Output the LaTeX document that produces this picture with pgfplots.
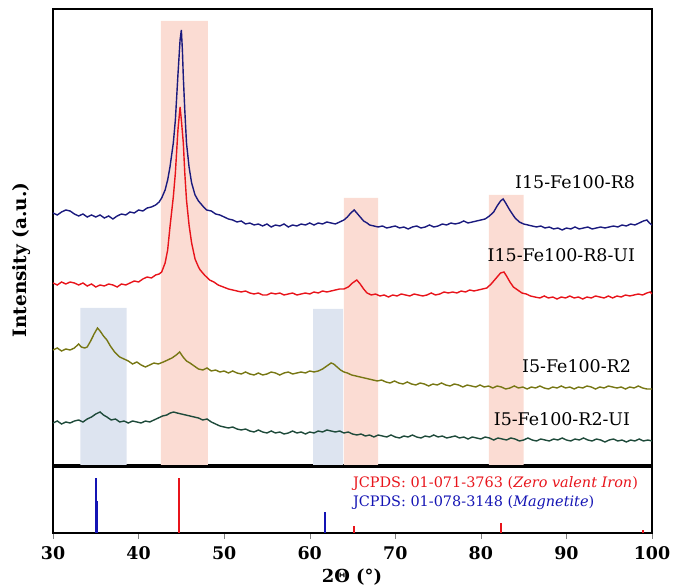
\documentclass[border=0pt]{standalone}
\usepackage{pgfplots}
\pgfplotsset{compat=1.18}
\usepackage{fontspec}
\setmainfont{DejaVu Serif}
\definecolor{navyc}{HTML}{1A1A7E}
\definecolor{redc}{HTML}{E8141B}
\definecolor{olivec}{HTML}{777714}
\definecolor{greenc}{HTML}{1E4A3A}
\definecolor{pinkc}{HTML}{FBDCD3}
\definecolor{bluec}{HTML}{DDE4F0}
\definecolor{stickblue}{HTML}{1414B4}
\begin{document}
\begin{tikzpicture}[x=1bp,y=1bp]
\useasboundingbox (-53,-53) rectangle (624,533);
% ---------------- top panel ----------------
\begin{axis}[
  at={(0,68)}, anchor=south west,
  scale only axis, width=599bp, height=456bp,
  xmin=30, xmax=100, ymin=0, ymax=456,
  xtick=\empty, ytick=\empty,
  every axis/.append style={line width=1.3bp},
  clip=true,
]
% shaded regions
\addplot[fill=pinkc, draw=none] coordinates {(42.6,0) (42.6,444) (48.1,444) (48.1,0)} \closedcycle;
\addplot[fill=pinkc, draw=none] coordinates {(64.0,0) (64.0,267) (68.0,267) (68.0,0)} \closedcycle;
\addplot[fill=pinkc, draw=none] coordinates {(80.95,0) (80.95,270) (85.0,270) (85.0,0)} \closedcycle;
\addplot[fill=bluec, draw=none] coordinates {(33.2,0) (33.2,157) (38.6,157) (38.6,0)} \closedcycle;
\addplot[fill=bluec, draw=none] coordinates {(60.4,0) (60.4,156) (63.9,156) (63.9,0)} \closedcycle;
% I15-Fe100-R8
\addplot[navyc, line width=1.4bp] coordinates {
(30.0,252)(30.5,250)(31.0,253)(31.5,255)(32.0,254)(32.5,251)(33.0,249)(33.5,251)(34.0,248)(34.5,250)
(35.0,248)(35.5,250)(36.0,247)(36.5,249)(37.0,246)(37.5,249)(38.0,251)(38.5,250)(39.0,253)(39.5,252)
(40.0,255)(40.5,254)(41.0,257)(41.5,258)(42.0,260)(42.4,263)(42.7,267)(43.1,275)(43.4,285)(43.67,298)
(44.06,322)(44.3,345)(44.6,390)(44.85,425)(45.0,435)(45.12,415)(45.23,388)(45.4,355)(45.6,322)(45.9,298)
(46.2,282)(46.6,270)(47.0,264)(47.2,262)(47.6,258)(47.96,255)(48.5,254)(49.0,251)(49.5,250)(50.0,248)
(50.5,246)(51.0,245)(51.5,243)(52.0,244)(52.5,241)(53.0,242)(53.5,240)(54.0,241)(54.5,239)(55.0,241)
(55.5,238)(56.0,240)(56.5,239)(57.0,241)(57.5,238)(58.0,240)(58.5,239)(59.0,241)(59.5,240)(60.0,242)
(60.5,240)(61.0,242)(61.5,241)(62.0,243)(62.5,242)(63.0,241)(63.5,243)(64.0,245)(64.4,248)(64.8,252)
(65.2,255)(65.5,252)(65.9,248)(66.3,244)(66.7,242)(67.0,240)(67.5,239)(68.0,238)(68.5,239)(69.0,237)
(69.5,238)(70.0,239)(70.5,237)(71.0,238)(71.5,236)(72.0,238)(72.5,239)(73.0,237)(73.5,238)(74.0,240)
(74.5,238)(75.0,239)(75.5,241)(76.0,240)(76.5,242)(77.0,241)(77.5,242)(78.0,244)(78.5,242)(79.0,243)
(79.5,244)(80.0,245)(80.5,246)(81.0,249)(81.5,253)(81.9,259)(82.3,264)(82.6,266)(82.9,262)(83.3,256)
(83.6,252)(84.0,247)(84.5,243)(85.0,241)(85.5,240)(86.0,239)(86.5,238)(87.0,239)(87.5,237)(88.0,238)
(88.5,236)(89.0,237)(89.5,235)(90.0,237)(90.5,236)(91.0,238)(91.5,236)(92.0,237)(92.5,238)(93.0,236)
(93.5,237)(94.0,238)(94.5,237)(95.0,238)(95.5,239)(96.0,238)(96.5,240)(97.0,239)(97.5,241)(98.0,240)
(98.5,242)(99.0,244)(99.4,245)(99.7,242)(100.0,240)};
% I15-Fe100-R8-UI
\addplot[redc, line width=1.4bp] coordinates {
(30.0,182)(30.5,180)(31.0,183)(31.5,181)(32.0,183)(32.5,182)(33.0,180)(33.5,182)(34.0,179)(34.5,181)
(35.0,178)(35.5,180)(36.0,179)(36.5,181)(37.0,180)(37.5,178)(38.0,181)(38.5,180)(39.0,182)(39.5,184)
(40.0,183)(40.5,186)(41.0,188)(41.5,187)(42.0,190)(42.4,191)(42.7,193)(43.1,202)(43.4,215)(43.67,238)
(44.06,268)(44.3,292)(44.6,335)(44.85,358)(45.0,345)(45.23,322)(45.4,292)(45.6,265)(45.9,240)(46.2,222)
(46.6,206)(47.0,198)(47.2,195)(47.7,190)(48.3,185)(48.8,183)(49.3,180)(49.9,178)(50.5,176)(51.0,175)
(51.5,174)(52.0,173)(52.5,174)(53.0,172)(53.5,171)(54.0,172)(54.5,170)(55.0,170)(55.5,172)(56.0,171)
(56.5,172)(57.0,170)(57.5,171)(58.0,172)(58.5,170)(59.0,171)(59.5,172)(60.0,171)(60.5,173)(61.0,172)
(61.5,174)(62.0,173)(62.5,174)(63.0,175)(63.5,176)(64.0,176)(64.5,178)(65.0,182)(65.5,185)(65.9,181)
(66.3,176)(66.7,172)(67.2,170)(67.7,171)(68.2,169)(68.7,170)(69.2,168)(69.7,170)(70.2,169)(70.7,171)
(71.2,170)(71.7,169)(72.2,171)(72.7,170)(73.2,169)(73.7,170)(74.2,172)(74.7,170)(75.2,171)(75.7,173)
(76.2,172)(76.7,173)(77.2,172)(77.7,174)(78.2,173)(78.7,175)(79.2,174)(79.7,175)(80.2,176)(80.7,177)
(81.2,181)(81.6,185)(81.9,188)(82.3,192)(82.7,193)(83.0,189)(83.4,183)(83.8,178)(84.3,175)(84.8,172)
(85.3,171)(85.8,169)(86.3,168)(86.9,167)(87.4,169)(87.9,167)(88.4,168)(88.9,166)(89.4,168)(89.9,167)
(90.4,169)(90.9,167)(91.4,168)(91.9,166)(92.4,168)(92.9,167)(93.4,169)(93.9,168)(94.4,167)(94.9,169)
(95.4,167)(95.9,169)(96.4,168)(96.9,170)(97.4,169)(97.9,170)(98.4,171)(98.9,170)(99.4,172)(99.8,173)
(100.0,171)};
% I5-Fe100-R2
\addplot[olivec, line width=1.4bp] coordinates {
(30.0,115)(30.5,117)(31.0,114)(31.5,116)(32.0,115)(32.5,117)(33.0,121)(33.3,118)(33.7,117)(34.0,118)
(34.4,124)(34.8,131)(35.2,137)(35.5,134)(35.9,129)(36.3,125)(36.7,119)(37.2,113)(37.8,108)(38.3,106)
(38.8,104)(39.3,101)(39.8,103)(40.3,100)(40.8,98)(41.3,100)(41.8,102)(42.3,101)(42.9,103)(43.4,105)
(43.9,107)(44.4,110)(44.8,113)(45.2,108)(45.6,104)(46.0,102)(46.5,99)(47.0,96)(47.5,95)(48.0,97)
(48.5,94)(49.0,95)(49.5,93)(50.0,94)(50.5,92)(51.0,94)(51.5,92)(52.0,91)(52.5,93)(53.0,91)
(53.5,90)(54.0,92)(54.5,90)(55.0,91)(55.5,93)(56.0,92)(56.5,90)(57.0,92)(57.5,93)(58.0,91)
(58.5,92)(59.0,93)(59.5,92)(60.0,94)(60.5,93)(61.0,94)(61.5,96)(62.0,99)(62.5,102)(62.8,101)
(63.2,98)(63.6,95)(64.0,93)(64.4,92)(64.9,90)(65.4,89)(65.9,88)(66.4,87)(66.9,86)(67.4,85)
(67.9,84)(68.4,85)(68.9,83)(69.4,82)(69.9,84)(70.4,82)(70.9,81)(71.4,83)(71.9,81)(72.4,80)
(72.9,82)(73.4,81)(73.9,79)(74.4,81)(74.9,80)(75.4,82)(75.9,80)(76.4,79)(76.9,81)(77.4,80)
(77.9,78)(78.4,80)(78.9,79)(79.4,78)(79.9,80)(80.4,78)(80.9,79)(81.4,77)(81.9,79)(82.4,78)
(82.9,76)(83.4,77)(83.9,79)(84.4,77)(84.9,78)(85.4,76)(85.9,78)(86.4,77)(86.9,79)(87.4,77)
(87.9,76)(88.4,78)(88.9,77)(89.4,79)(89.9,77)(90.4,78)(90.9,76)(91.4,78)(91.9,77)(92.4,79)
(92.9,78)(93.4,76)(93.9,78)(94.4,77)(94.9,79)(95.4,78)(95.9,77)(96.4,78)(96.9,76)(97.4,78)
(97.9,77)(98.4,79)(98.9,77)(99.4,76)(100.0,76)};
% I5-Fe100-R2-UI
\addplot[greenc, line width=1.4bp] coordinates {
(30.0,42)(30.5,44)(31.0,41)(31.5,43)(32.0,42)(32.5,44)(33.0,45)(33.5,43)(34.0,46)(34.5,48)
(35.0,51)(35.5,53)(35.9,50)(36.3,48)(36.8,45)(37.3,46)(37.8,43)(38.3,44)(38.8,42)(39.3,44)
(39.8,43)(40.3,42)(40.8,44)(41.3,43)(41.8,45)(42.3,47)(42.8,49)(43.3,50)(43.7,52)(44.1,53)
(44.5,52)(45.0,51)(45.5,50)(46.0,49)(46.5,48)(47.0,47)(47.5,45)(48.0,46)(48.5,43)(49.0,41)
(49.5,39)(50.0,38)(50.5,37)(51.0,38)(51.5,36)(52.0,35)(52.5,36)(53.0,34)(53.5,33)(54.0,35)
(54.5,33)(55.0,32)(55.5,34)(56.0,32)(56.5,33)(57.0,31)(57.5,32)(58.0,34)(58.5,32)(59.0,33)
(59.5,31)(60.0,33)(60.5,32)(61.0,34)(61.5,33)(62.0,35)(62.5,34)(63.0,33)(63.5,34)(64.0,32)
(64.5,33)(65.0,31)(65.5,30)(66.0,31)(66.5,29)(67.0,30)(67.5,28)(68.0,30)(68.5,29)(69.0,28)
(69.5,30)(70.0,28)(70.5,27)(71.0,29)(71.5,28)(72.0,30)(72.5,28)(73.0,27)(73.5,29)(74.0,28)
(74.5,30)(75.0,28)(75.5,29)(76.0,27)(76.5,28)(77.0,29)(77.5,27)(78.0,28)(78.5,26)(79.0,28)
(79.5,27)(80.0,26)(80.5,28)(81.0,27)(81.5,25)(82.0,27)(82.5,26)(83.0,25)(83.5,27)(84.0,26)
(84.5,24)(85.0,25)(85.5,27)(86.0,25)(86.5,24)(87.0,26)(87.5,25)(88.0,24)(88.5,26)(89.0,25)
(89.5,27)(90.0,25)(90.5,24)(91.0,26)(91.5,25)(92.0,27)(92.5,25)(93.0,24)(93.5,26)(94.0,25)
(94.5,23)(95.0,25)(95.5,26)(96.0,24)(96.5,25)(97.0,23)(97.5,25)(98.0,24)(98.5,26)(99.0,24)
(99.5,25)(100.0,24)};
\node[anchor=base east, font=\fontsize{17.5}{20}\selectfont] at (axis cs:98.48,276) {I15-Fe100-R8};
\node[anchor=base east, font=\fontsize{17.5}{20}\selectfont] at (axis cs:98.48,203) {I15-Fe100-R8-UI};
\node[anchor=base east, font=\fontsize{17.5}{20}\selectfont] at (axis cs:98.0,92) {I5-Fe100-R2};
\node[anchor=base east, font=\fontsize{17.5}{20}\selectfont] at (axis cs:97.9,39) {I5-Fe100-R2-UI};
\end{axis}
% ---------------- bottom panel ----------------
\begin{axis}[
  at={(0,0)}, anchor=south west,
  scale only axis, width=599bp, height=66bp,
  xmin=30, xmax=100, ymin=0, ymax=120,
  xtick={30,40,...,100}, ytick=\empty,
  xtick pos=lower, tick align=outside, major tick length=6bp,
  every axis/.append style={line width=1.3bp},
  /pgf/number format/assume math mode=true,
  xticklabel style={font=\bfseries\fontsize{17.5}{20}\selectfont, yshift=-4bp},
  clip=false,
]
\addplot[ycomb, stickblue, line width=2bp] coordinates {(35.0,100)(35.12,59)(61.8,38)};
\addplot[ycomb, redc, line width=2bp] coordinates {(44.67,100)(65.2,12)(82.3,19)(99.0,6)};
\node[anchor=base west, text=redc, font=\fontsize{14.5}{17}\selectfont] at (axis cs:64.6,83.6) {JCPDS: 01-071-3763 (\textit{Zero valent Iron})};
\node[anchor=base west, text=stickblue, font=\fontsize{14.5}{17}\selectfont] at (axis cs:64.6,47.8) {JCPDS: 01-078-3148 (\textit{Magnetite})};
\end{axis}
\node[font=\bfseries\fontsize{18}{21}\selectfont] at (299,-44) {2Θ (°)};
\node[rotate=90, font=\bfseries\fontsize{18.5}{22}\selectfont] at (-31,273) {Intensity (a.u.)};
\end{tikzpicture}
\end{document}
